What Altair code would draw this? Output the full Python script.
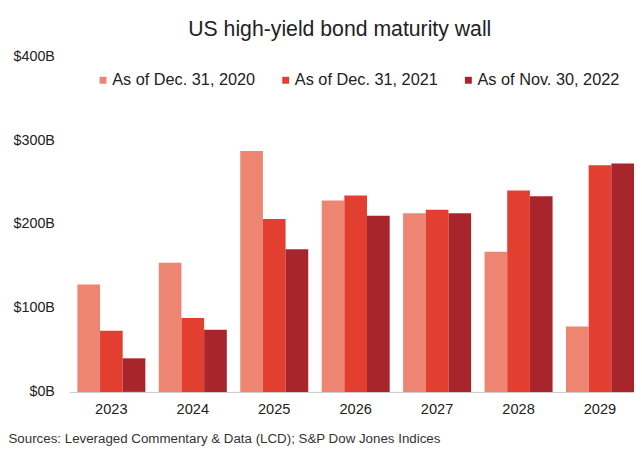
import altair as alt
import pandas as pd

years = ["2023", "2024", "2025", "2026", "2027", "2028", "2029"]
series = ["As of Dec. 31, 2020", "As of Dec. 31, 2021", "As of Nov. 30, 2022"]
v2020 = [128, 154, 287, 228, 213, 167, 78]
v2021 = [73, 88, 206, 234, 217, 240, 270]
v2022 = [40, 74, 170, 210, 213, 233, 272]
colors = ["#EE8572", "#E23F30", "#A7252B"]
source = "Sources: Leveraged Commentary & Data (LCD); S&P Dow Jones Indices"

rows = []
for s, vals in zip(series, [v2020, v2021, v2022]):
    for y, v in zip(years, vals):
        rows.append({"year": y, "series": s, "value": v})
df = pd.DataFrame(rows)

chart = alt.Chart(df).mark_bar().encode(
    x=alt.X(
        "year:N", sort=years,
        scale=alt.Scale(paddingInner=0.165, paddingOuter=0.05, align=1),
        axis=alt.Axis(
            title=source, labelAngle=0, ticks=False, domainColor="#c8c8c8",
            labelFontSize=14.8, labelPadding=10, labelColor="#222",
            titleX=-62, titleY=47, titleAlign="left", titleBaseline="middle",
            titleFontSize=13.5, titleFontWeight="normal", titleColor="#333",
        ),
    ),
    xOffset=alt.XOffset("series:N", sort=series),
    y=alt.Y(
        "value:Q", scale=alt.Scale(domain=[0, 400]),
        axis=alt.Axis(
            values=[0, 100, 200, 300, 400], labelExpr="'$' + datum.value + 'B'",
            title=None, domain=False, ticks=False, grid=False,
            labelPadding=15, labelFontSize=14.5, labelColor="#222",
        ),
    ),
    color=alt.Color(
        "series:N", sort=series,
        scale=alt.Scale(domain=series, range=colors),
        legend=alt.Legend(
            title=None, orient="none", direction="horizontal",
            legendX=26, legendY=16, symbolType="square", symbolSize=49,
            symbolStrokeWidth=0, symbolOpacity=1, labelFontSize=16.5, labelOffset=1,
            columnPadding=22, labelColor="#222",
        ),
    ),
).properties(
    width=572, height=340,
    title=alt.Title("US high-yield bond maturity wall", fontSize=21.5,
                    fontWeight="normal", dx=-12, color="#222", offset=8),
    padding={"left": 0, "top": 8, "right": 0, "bottom": 0},
).configure(font="Liberation Sans").configure_view(stroke=None)

chart.save("out.html", embed_options={"renderer": "svg", "actions": False})
